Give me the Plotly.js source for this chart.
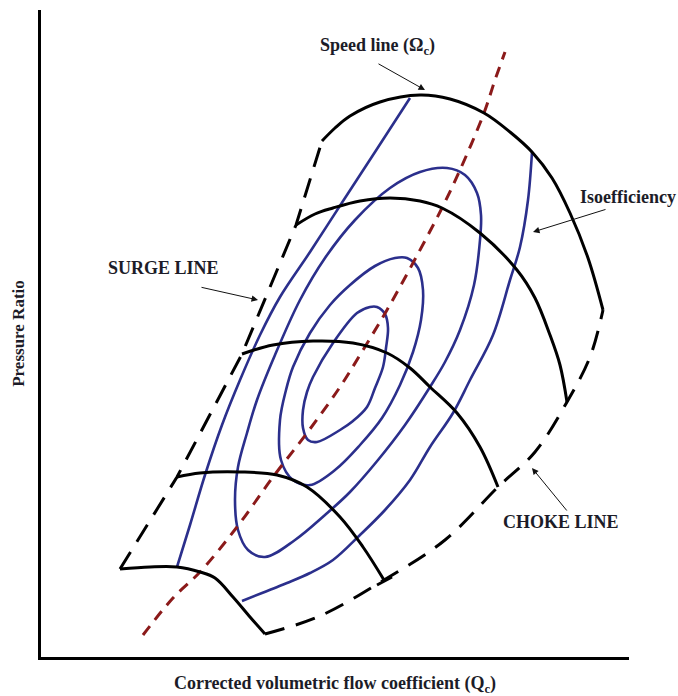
<!DOCTYPE html>
<html>
<head>
<meta charset="utf-8">
<script src="https://cdn.plot.ly/plotly-3.0.1.min.js"></script>
<style>
  html, body { margin: 0; padding: 0; background: #ffffff; }
  #map { width: 678px; height: 696px; }
</style>
</head>
<body>
<div id="map"></div>
<script>
// Schematic compressor map: constant-speed lines, isoefficiency islands,
// surge and choke limits and the peak-efficiency operating line.
// Flow (x) and pressure ratio (y) are in arbitrary chart units.

// Constant-speed lines, highest speed first
const speed1X = [281, 294, 309, 339, 379, 409, 443, 469, 491, 511, 529, 547, 562];
const speed1Y = [516, 529, 541, 555, 562, 558, 544, 525, 505, 479, 444, 399, 347];
const speed2X = [255, 274, 292, 319, 349, 379, 401, 439, 476, 494, 509, 519, 526];
const speed2Y = [432, 443, 449, 456, 459, 456, 449, 424, 387, 359, 322, 292, 255];
const speed3X = [201, 232, 272, 312, 346, 369, 389, 416, 439, 457];
const speed3Y = [303, 312, 316, 314, 304, 289, 270, 244, 210, 170];
const speed4X = [136, 159, 199, 236, 266, 299, 322, 343];
const speed4Y = [180, 184, 185, 182, 170, 140, 110, 77];
const speed5X = [79, 109, 136, 159, 174, 192, 209, 224];
const speed5Y = [88, 90, 90, 85, 79, 60, 40, 23];
// end stop on the fourth speed line
const stopX = [336, 351];
const stopY = [72, 80];

// Surge and choke limits
const surgeX = [79, 136, 201, 255, 281];
const surgeY = [88, 180, 303, 432, 516];
const chokeX = [224, 279, 343, 404, 457, 494, 526, 549, 562];
const chokeY = [23, 41, 77, 117, 170, 205, 255, 300, 347];

// Peak-efficiency operating line
const peakX = [102, 132, 159, 196, 232, 266, 299, 322, 346, 372, 401, 419, 443, 454, 464];
const peakY = [22, 59, 85, 130, 180, 224, 270, 307, 347, 394, 449, 487, 544, 577, 605];

// Isoefficiency contours, innermost first
const eff1X = [336, 344, 347, 345, 342, 334, 326, 312, 299, 276, 267, 262, 262, 266, 272, 292, 316, 329, 336];
const eff1Y = [350, 343, 329, 309, 290, 269, 250, 236, 227, 215, 217, 229, 247, 265, 280, 314, 344, 350, 350];
const eff2X = [366, 377, 382, 380, 372, 359, 341, 319, 294, 269, 252, 240, 239, 245, 252, 269, 289, 309, 334, 354, 366];
const eff2Y = [399, 389, 367, 337, 305, 272, 239, 212, 187, 172, 177, 197, 237, 267, 290, 324, 352, 372, 391, 399, 399];
const eff3X = [406, 424, 436, 440, 439, 433, 419, 404, 389, 364, 337, 309, 284, 254, 224, 207, 197, 194, 197, 206, 216, 234, 259, 284, 314, 349, 379, 406];
const eff3Y = [489, 482, 464, 442, 417, 372, 327, 295, 270, 232, 197, 165, 142, 117, 100, 107, 127, 157, 190, 224, 257, 302, 357, 399, 437, 469, 485, 489];
// outermost contour is cut by the top and bottom speed lines
const eff4LeftX = [369, 334, 304, 269, 239, 219, 199, 181, 164, 149, 136];
const eff4LeftY = [559, 505, 459, 405, 360, 322, 277, 232, 182, 132, 90];
const eff4RightX = [491, 487, 479, 469, 452, 429, 412, 389, 369, 344, 319, 292, 269, 246, 221, 201];
const eff4RightY = [505, 457, 410, 377, 322, 277, 244, 210, 177, 147, 122, 97, 84, 74, 64, 56];

const BLACK = '#000000';
const BLUE = '#2b2f8c';
const RED = '#8b1a1a';
const TEXT = '#1c1c28';
const SERIF = 'Liberation Serif, Times New Roman, serif';

function curve(x, y, color, width, dash, shape) {
  return {
    type: 'scatter', mode: 'lines', x: x, y: y,
    line: { color: color, width: width, dash: dash || 'solid', shape: shape || 'spline', smoothing: 1 },
    hoverinfo: 'skip', showlegend: false, cliponaxis: false
  };
}

const traces = [
  curve(eff1X, eff1Y, BLUE, 2.6),
  curve(eff2X, eff2Y, BLUE, 2.6),
  curve(eff3X, eff3Y, BLUE, 2.6),
  curve(eff4LeftX, eff4LeftY, BLUE, 2.6),
  curve(eff4RightX, eff4RightY, BLUE, 2.6),
  curve(peakX, peakY, RED, 3, '11px,8px'),
  curve(surgeX, surgeY, BLACK, 3, '20px,12px', 'linear'),
  curve(chokeX, chokeY, BLACK, 3, '20px,12px'),
  curve(speed1X, speed1Y, BLACK, 3),
  curve(speed2X, speed2Y, BLACK, 3),
  curve(speed3X, speed3Y, BLACK, 3),
  curve(speed4X, speed4Y, BLACK, 3),
  curve(speed5X, speed5Y, BLACK, 3),
  curve(stopX, stopY, BLACK, 3, 'solid', 'linear')
];

function label(text, x, y) {
  return {
    x: x, y: y, xref: 'x', yref: 'y', text: '<b>' + text + '</b>', showarrow: false,
    font: { family: SERIF, size: 18, color: TEXT }, xanchor: 'center', yanchor: 'middle'
  };
}
function pointer(headX, headY, tailX, tailY) {
  return {
    x: headX, y: headY, xref: 'x', yref: 'y', ax: tailX, ay: tailY, axref: 'x', ayref: 'y',
    text: '', showarrow: true, arrowhead: 2, arrowsize: 1.3, arrowwidth: 1, arrowcolor: '#111111'
  };
}

const annotations = [
  label('Speed line (Ω<sub>c</sub>)', 336, 611),
  pointer(384, 567, 336, 594),
  label('SURGE LINE', 122, 389),
  pointer(217, 357, 159, 370),
  label('Isoefficiency', 587, 460),
  pointer(492, 425, 566, 448),
  label('CHOKE LINE', 520, 135),
  pointer(491, 189, 527, 145)
];

const axisCommon = {
  showline: true, linewidth: 3, linecolor: BLACK, mirror: false,
  showgrid: false, zeroline: false, showticklabels: false, ticks: '',
  fixedrange: true
};

const layout = {
  width: 678, height: 696,
  margin: { l: 41, r: 49, t: 10, b: 39 },
  paper_bgcolor: '#ffffff', plot_bgcolor: '#ffffff',
  xaxis: Object.assign({}, axisCommon, {
    range: [0, 588],
    title: { text: '<b>Corrected volumetric flow coefficient (Q<sub>c</sub>)</b>',
             font: { family: SERIF, size: 18, color: TEXT }, standoff: 19 }
  }),
  yaxis: Object.assign({}, axisCommon, {
    range: [0, 647],
    title: { text: '<b>Pressure Ratio</b>',
             font: { family: SERIF, size: 17, color: TEXT }, standoff: 10 }
  }),
  annotations: annotations
};

Plotly.newPlot('map', traces, layout, { displayModeBar: false, staticPlot: true });
</script>
</body>
</html>
